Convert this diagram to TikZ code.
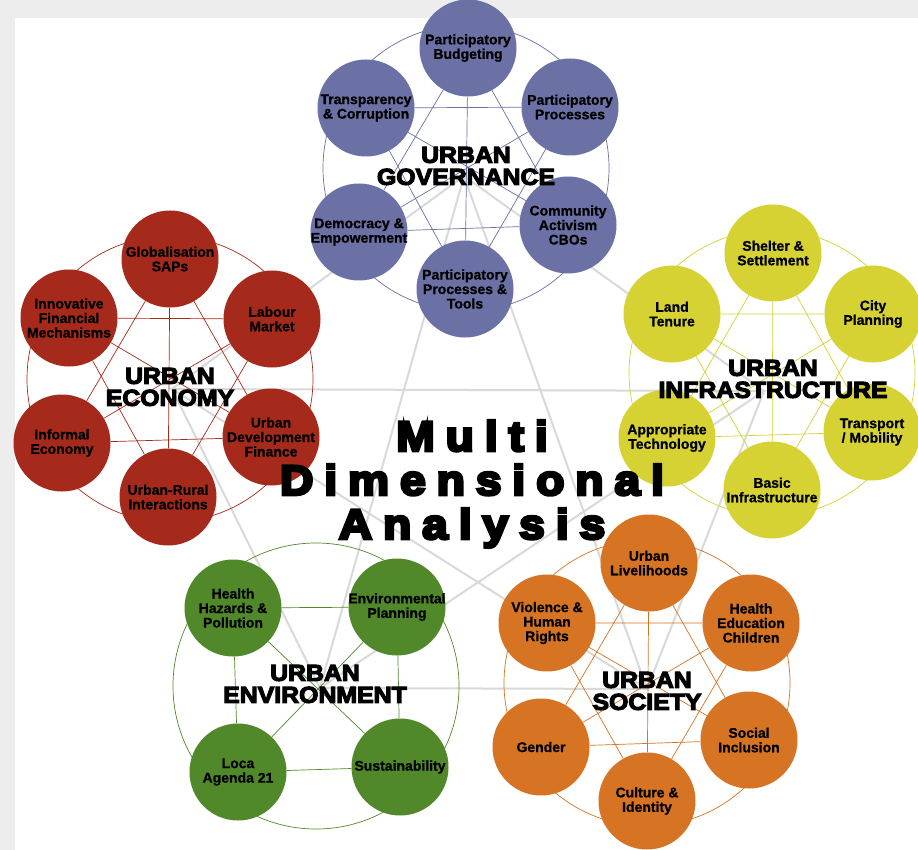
\documentclass[tikz,border=0pt]{standalone}
\usepackage{fontspec}
\setmainfont{Liberation Sans}[BoldFeatures={FakeBold=0.8}]
\newfontfamily\themefont{Liberation Sans Bold}[FakeBold=5,FakeStretch=1.08]
\newfontfamily\titlefont{Liberation Sans Bold}[FakeBold=7,FakeStretch=1.1,LetterSpace=26]

\begin{document}
\begin{tikzpicture}[x=1pt, y=-1pt,
    topic/.style={circle, minimum size=97pt, inner sep=-4pt, align=center,
      font=\fontsize{14}{14.5}\selectfont\bfseries},
    theme/.style={align=center, font=\themefont\fontsize{23}{22}\selectfont},
    link/.style={line width=0.7pt},
    hub/.style={line width=2pt, draw=black!15, line cap=round}]
    % Define colors for the five dimensions
    \definecolor{govblue}{RGB}{107,112,165}
    \definecolor{ecored}{RGB}{166,42,27}
    \definecolor{infyellow}{RGB}{214,210,52}
    \definecolor{envgreen}{RGB}{80,136,42}
    \definecolor{socorange}{RGB}{214,116,36}

    % Page background
    \fill[black!7] (0,0) rectangle (918,850);
    \fill[white] (15,18) rectangle (918,850);
    \useasboundingbox (0,0) rectangle (918,850);

    % Grey network between the dimensions
    \coordinate (govhub) at (464,176);
    \coordinate (ecohub) at (172,389);
    \coordinate (infhub) at (764,391);
    \coordinate (envhub) at (320,688);
    \coordinate (sochub) at (647,689);
    \draw[hub] (govhub) -- (infhub) -- (sochub) -- (envhub) -- (ecohub) -- cycle;
    \draw[hub] (govhub) -- (sochub) -- (ecohub) -- (infhub) -- (envhub) -- cycle;

    % Urban Governance (blue)
    \draw[link, govblue] (466,168) circle (143pt);
    \node[topic, fill=govblue] (gov1) at (468,48) {Participatory\\Budgeting};
    \node[topic, fill=govblue] (gov2) at (570,107) {Participatory\\Processes};
    \node[topic, fill=govblue] (gov3) at (568,225) {Community\\Activism\\CBOs};
    \node[topic, fill=govblue] (gov4) at (465,289) {Participatory\\Processes \&\\Tools};
    \node[topic, fill=govblue] (gov5) at (359,232) {Democracy \&\\Empowerment};
    \node[topic, fill=govblue] (gov6) at (366,108) {Transparency\\\& Corruption};
    \draw[link, govblue] (gov1) -- (gov3) (gov1) -- (gov4) (gov1) -- (gov5)
      (gov2) -- (gov4) (gov2) -- (gov5) (gov2) -- (gov6)
      (gov3) -- (gov5) (gov3) -- (gov6) (gov4) -- (gov6);
    \node[theme] (govtitle) at (466,166) {URBAN\\GOVERNANCE};

    % Urban Economy (red)
    \draw[link, ecored] (170,379) circle (143pt);
    \node[topic, fill=ecored] (eco1) at (170,259) {Globalisation\\SAPs};
    \node[topic, fill=ecored] (eco2) at (272,319) {Labour\\Market};
    \node[topic, fill=ecored] (eco3) at (271,437) {Urban\\Development\\Finance};
    \node[topic, fill=ecored] (eco4) at (168,497) {Urban-Rural\\Interactions};
    \node[topic, fill=ecored] (eco5) at (62,443) {Informal\\Economy};
    \node[topic, fill=ecored] (eco6) at (69,318) {Innovative\\Financial\\Mechanisms};
    \draw[link, ecored] (eco1) -- (eco3) (eco1) -- (eco4) (eco1) -- (eco5)
      (eco2) -- (eco4) (eco2) -- (eco5) (eco2) -- (eco6)
      (eco3) -- (eco5) (eco3) -- (eco6) (eco4) -- (eco6);
    \node[theme] (ecotitle) at (170,387) {URBAN\\ECONOMY};

    % Urban Infrastructure (yellow)
    \draw[link, infyellow] (772,373) circle (143pt);
    \node[topic, fill=infyellow] (inf1) at (773,253) {Shelter \&\\Settlement};
    \node[topic, fill=infyellow] (inf2) at (873,314) {City\\Planning};
    \node[topic, fill=infyellow] (inf3) at (872,432) {Transport\\/ Mobility};
    \node[topic, fill=infyellow] (inf4) at (772,490) {Basic\\Infrastructure};
    \node[topic, fill=infyellow] (inf5) at (667,438) {Appropriate\\Technology};
    \node[topic, fill=infyellow] (inf6) at (672,314) {Land\\Tenure};
    \draw[link, infyellow] (inf1) -- (inf3) (inf1) -- (inf4) (inf1) -- (inf5)
      (inf2) -- (inf4) (inf2) -- (inf5) (inf2) -- (inf6)
      (inf3) -- (inf5) (inf3) -- (inf6) (inf4) -- (inf6);
    \node[theme] (inftitle) at (773,379) {URBAN\\INFRASTRUCTURE};

    % Urban Environment (green)
    \draw[link, envgreen] (316,686) circle (143pt);
    \node[topic, fill=envgreen] (env1) at (233,608) {Health\\Hazards \&\\Pollution};
    \node[topic, fill=envgreen] (env2) at (397,607) {Environmental\\Planning};
    \node[topic, fill=envgreen] (env3) at (400,767) {Sustainability};
    \node[topic, fill=envgreen] (env4) at (238,772) {Loca\\Agenda 21};
    \draw[link, envgreen] (env1) -- (env2) -- (env3) -- (env4) -- (env1)
      (env1) -- (env3) (env2) -- (env4);
    \node[theme] (envtitle) at (315,684) {URBAN\\ENVIRONMENT};

    % Urban Society (orange)
    \draw[link, socorange] (647,683) circle (143pt);
    \node[topic, fill=socorange] (soc1) at (649,563) {Urban\\Livelihoods};
    \node[topic, fill=socorange] (soc2) at (751,623) {Health\\Education\\Children};
    \node[topic, fill=socorange] (soc3) at (749,740) {Social\\Inclusion};
    \node[topic, fill=socorange] (soc4) at (647,801) {Culture \&\\Identity};
    \node[topic, fill=socorange] (soc5) at (541,747) {Gender};
    \node[topic, fill=socorange] (soc6) at (547,623) {Violence \&\\Human\\Rights};
    \draw[link, socorange] (soc1) -- (soc3) (soc1) -- (soc4) (soc1) -- (soc5)
      (soc2) -- (soc4) (soc2) -- (soc5) (soc2) -- (soc6)
      (soc3) -- (soc5) (soc3) -- (soc6) (soc4) -- (soc6);
    \node[theme] (soctitle) at (647,691) {URBAN\\SOCIETY};

    % Centre title
    \node[align=center, font=\titlefont\fontsize{42}{44}\selectfont] (title) at (472,484)
      {Multi\\Dimensional\\Analysis};
\end{tikzpicture}
\end{document}
